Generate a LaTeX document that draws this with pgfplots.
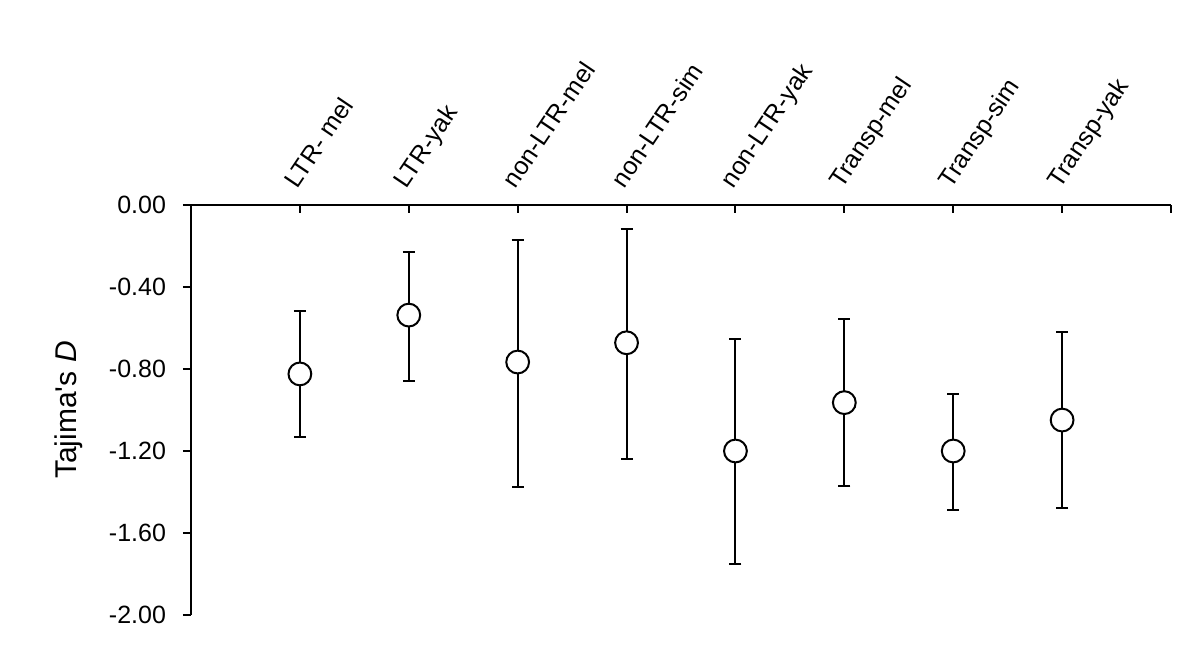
\documentclass[border=0pt]{standalone}
\usepackage{fontspec}
\setmainfont{Liberation Sans}
\usepackage{pgfplots}
\pgfplotsset{compat=1.18}
\usepackage{pgfplotstable}

% x, mean, upper and lower half-widths of the bars
\pgfplotstableread{
x  y       ep     em
1  -0.824  0.309  0.308
2  -0.537  0.306  0.322
3  -0.766  0.595  0.608
4  -0.672  0.553  0.565
5  -1.200  0.548  0.551
6  -0.964  0.408  0.407
7  -1.200  0.276  0.290
8  -1.049  0.429  0.431
}\tajima

\begin{document}
\begin{tikzpicture}
  \begin{axis}[
      scale only axis,
      width=490pt, height=205pt,
      xmin=0, xmax=9,
      ymin=-2, ymax=0,
      axis x line=top,
      axis y line=left,
      axis line style={-, line width=1pt},
      x tick style={line width=1pt, black},
      y tick style={line width=1pt, black},
      major tick length=4pt,
      xtick={1,...,9},
      xticklabels={LTR- mel,LTR-yak,non-LTR-mel,non-LTR-sim,non-LTR-yak,Transp-mel,Transp-sim,Transp-yak,},
      xtick align=inside,
      ytick align=outside,
      ytick={-2,-1.6,-1.2,-0.8,-0.4,0},
      yticklabel style={/pgf/number format/fixed, /pgf/number format/fixed zerofill,
        /pgf/number format/precision=2, font=\fontsize{12.5}{14}\selectfont, xshift=-5pt},
      /pgf/number format/assume math mode=true,
      xticklabel style={font=\fontsize{12.5}{14}\selectfont, xshift=-3pt, yshift=5pt, rotate=56, anchor=base west},
      ylabel={Tajima\textquotesingle s \textit{D}},
      ylabel style={font=\fontsize{15}{17}\selectfont},
      ylabel shift=6pt,
      clip=false,
    ]
    \addplot[
      only marks,
      mark=*, mark size=5.7pt,
      mark options={fill=white, draw=black, line width=1pt},
      error bars/.cd,
        y dir=both, y explicit,
        error mark=-,
        error bar style={line width=1pt, black},
        error mark options={rotate=90, line width=1pt, mark size=3pt, black},
    ] table[x=x, y=y, y error plus=ep, y error minus=em] {\tajima};
    % frame the page like the reference
    \path (rel axis cs:-0.1949,-0.1317) rectangle (rel axis cs:1.0296,1.5);
  \end{axis}
\end{tikzpicture}
\end{document}
